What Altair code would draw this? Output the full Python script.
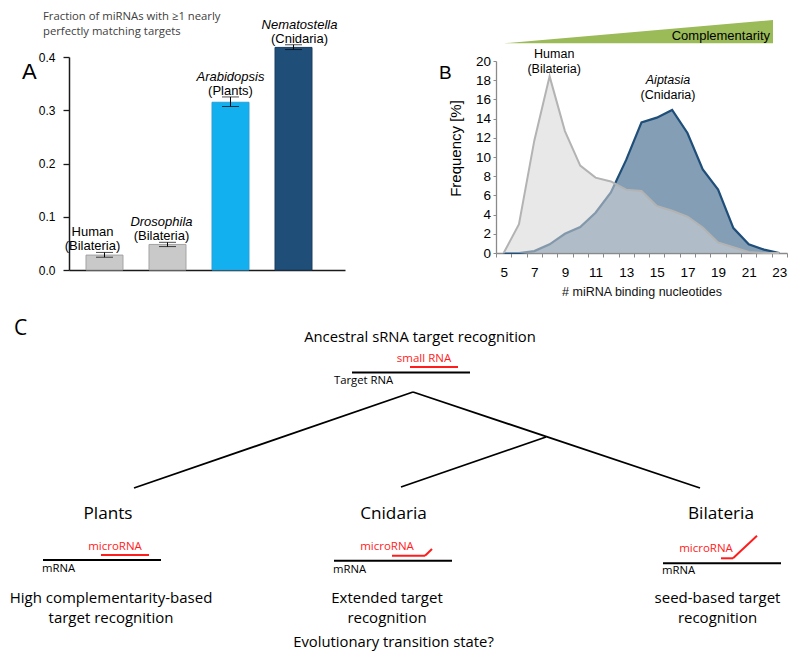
import altair as alt
import pandas as pd

# ---------------- Panel A data ----------------
a_species = ["Human", "Drosophila", "Arabidopsis", "Nematostella"]
a_clade = ["(Bilateria)", "(Bilateria)", "(Plants)", "(Cnidaria)"]
a_fraction = [0.028, 0.048, 0.315, 0.418]
a_err_low = [0.024, 0.044, 0.307, 0.414]
a_err_high = [0.033, 0.052, 0.325, 0.423]
a_yticks = [0.0, 0.1, 0.2, 0.3, 0.4]
a_title = ["Fraction of miRNAs with \u22651 nearly", "perfectly matching targets"]

# ---------------- Panel B data ----------------
b_nucleotides = [5, 6, 7, 8, 9, 10, 11, 12, 13, 14, 15, 16, 17, 18, 19, 20, 21, 22, 23]
b_human = [0.0, 3.0, 11.7, 18.4, 12.7, 9.1, 7.85, 7.45, 6.6, 6.45, 4.9, 4.4, 3.8, 2.65, 1.1, 0.6, 0.1, 0.0, 0.0]
b_aiptasia = [0.0, 0.0, 0.2, 0.9, 2.0, 2.7, 4.2, 6.3, 9.7, 13.6, 14.1, 14.9, 12.5, 8.7, 6.6, 2.6, 0.9, 0.35, 0.0]
b_xlabels = [5, 7, 9, 11, 13, 15, 17, 19, 21, 23]
b_xedges = [4.5, 5.5, 6.5, 7.5, 8.5, 9.5, 10.5, 11.5, 12.5, 13.5, 14.5, 15.5, 16.5,
            17.5, 18.5, 19.5, 20.5, 21.5, 22.5, 23.5]
b_yticks = [0, 2, 4, 6, 8, 10, 12, 14, 16, 18, 20]
b_series_labels = ["Human", "(Bilateria)", "Aiptasia", "(Cnidaria)"]
b_label_x = [8.3, 8.3, 15.73, 15.73]
b_label_y = [20.36, 18.8, 17.6, 16.04]

# ---------------- Panel C schematic (page pixel coordinates) ----------------
c_tree_x1 = [134, 413, 546]
c_tree_y1 = [488, 392, 437]
c_tree_x2 = [413, 700, 401]
c_tree_y2 = [392, 488, 487]

c_target_x1 = [352, 43, 334, 663]
c_target_x2 = [470, 161, 452, 781]
c_target_y = [372.5, 560, 560.7, 563.3]

c_small_x1 = [410, 101, 392, 425, 721, 733]
c_small_y1 = [367, 555, 555.7, 555.7, 558.3, 558.3]
c_small_x2 = [458, 149, 425, 432, 733, 757]
c_small_y2 = [367, 555, 555.7, 549, 558.3, 535.7]

c_headings = ["Ancestral sRNA target recognition", "Evolutionary transition state?"]
c_headings_x = [420, 393.5]
c_headings_y = [338, 643]

c_clades = ["Plants", "Cnidaria", "Bilateria"]
c_clades_x = [108, 393.5, 721]
c_clades_y = [514, 514, 514]

c_modes = ["High complementarity-based", "target recognition", "Extended target",
           "recognition", "seed-based target", "recognition"]
c_modes_x = [111, 111, 387, 387, 717.5, 717.5]
c_modes_y = [598, 618, 598, 618, 598, 618]

c_small_labels = ["small RNA", "microRNA", "microRNA", "microRNA"]
c_small_labels_x = [424, 115, 387, 706]
c_small_labels_y = [359, 547, 547, 549]

c_target_labels = ["Target RNA", "mRNA", "mRNA", "mRNA"]
c_target_labels_x = [334, 42, 333, 662]
c_target_labels_y = [381, 569, 570, 571]

wedge_x = [504, 773]
wedge_top = [43.3, 20]
wedge_base = [43.3, 43.3]

# ---------------- styling ----------------
SANS = "Liberation Sans"
HUM = "Open Sans"
A_FILLS = ["#c9c9c9", "#c9c9c9", "#12b0ef", "#1f4e79"]
A_STROKES = ["#a3a3a3", "#a3a3a3", "#2a9fd8", "#183c5e"]
RED = "#ff1c1c"

# ================= Panel A =================
dfA = pd.DataFrame({"species": a_species, "clade": a_clade, "frac": a_fraction,
                    "lo": a_err_low, "hi": a_err_high})


def xA(axis=None):
    return alt.X("species:N", sort=a_species,
                 scale=alt.Scale(domain=a_species, range=[61, 337], paddingInner=0.413,
                                 paddingOuter=0.397, align=0.34),
                 axis=axis)


def yA(field, axis=None):
    return alt.Y(field + ":Q", scale=alt.Scale(domain=[0, 0.4], range=[262, 49], nice=False),
                 axis=axis)


axisXA = alt.Axis(orient="bottom", labels=False, ticks=False, title=None, grid=False, offset=-387,
                  domainColor="#1a1a1a", domainWidth=1.5)
axisYA = alt.Axis(orient="left", values=a_yticks, format=".1f", offset=-61, tickSize=6,
                  labelPadding=8, labelFontSize=12, labelFont=SANS, labelColor="#000000",
                  domainColor="#1a1a1a", tickColor="#1a1a1a", domainWidth=1.5, tickWidth=1.3,
                  grid=False, title=None)

barsA = alt.Chart(dfA).mark_bar(strokeWidth=1).encode(
    x=xA(axisXA),
    y=yA("frac", axisYA),
    fill=alt.Fill("species:N", scale=alt.Scale(domain=a_species, range=A_FILLS), legend=None),
    stroke=alt.Stroke("species:N", scale=alt.Scale(domain=a_species, range=A_STROKES), legend=None),
)
errA = alt.Chart(dfA).mark_rule(color="black", strokeWidth=1).encode(
    x=xA(), y=yA("lo"), y2="hi:Q")
capsA = alt.Chart(dfA).transform_fold(["lo", "hi"], as_=["end", "v"]).mark_tick(
    color="black", size=17, thickness=1).encode(x=xA(), y=yA("v"))
nameA_plain = alt.Chart(dfA).transform_filter(alt.datum.species == "Human").mark_text(
    font=SANS, fontSize=13, dy=-16, baseline="alphabetic", color="black").encode(
    x=xA(), y=yA("hi"), text="species:N")
nameA_ital = alt.Chart(dfA).transform_filter(alt.datum.species != "Human").mark_text(
    font=SANS, fontSize=13, fontStyle="italic", dy=-16, baseline="alphabetic", color="black").encode(
    x=xA(), y=yA("hi"), text="species:N")
cladeA = alt.Chart(dfA).mark_text(
    font=SANS, fontSize=13, dy=-2, baseline="alphabetic", color="black").encode(
    x=xA(), y=yA("hi"), text="clade:N")

# ================= Panel B =================
nB = len(b_nucleotides)
dfB = pd.DataFrame({"n": b_nucleotides * 2, "freq": b_human + b_aiptasia,
                    "series": ["Human"] * nB + ["Aiptasia"] * nB})


def xB(field, axis=None):
    return alt.X(field + ":Q", scale=alt.Scale(domain=[4.5, 23.5], range=[488, 779], nice=False,
                                              zero=False), axis=axis)


def yB(field, axis=None):
    return alt.Y(field + ":Q", scale=alt.Scale(domain=[0, 20], range=[245, 53], nice=False),
                 axis=axis)


axisXB = alt.Axis(
    orient="bottom",
    values=sorted(b_xedges + b_xlabels),
    labelExpr="datum.value % 1 === 0 ? format(datum.value, 'd') : ''",
    tickOpacity={"condition": {"test": "datum.value % 1 === 0", "value": 0}, "value": 1},
    offset=-404, tickSize=4, tickColor="#8a8a8a", domainColor="#8a8a8a", domainWidth=1.3,
    labelFontSize=13.5, labelFont=SANS, labelColor="black", labelPadding=8,
    labelOverlap=False, labelFlush=False, grid=False,
    title="# miRNA binding nucleotides", titleFont=SANS, titleFontSize=12.5,
    titleFontWeight="normal", titleColor="#111111", titlePadding=7)
axisYB = alt.Axis(
    orient="left",
    values=b_yticks, format="d", offset=-488, tickSize=3, tickColor="#8a8a8a",
    domainColor="#8a8a8a", domainWidth=1.3, labelFontSize=13.5, labelFont=SANS,
    labelColor="black", labelPadding=2.5, grid=False,
    title="Frequency [%]", titleFont=SANS, titleFontSize=15, titleFontWeight="normal",
    titleColor="black", titlePadding=12, titleY=140)

aip = alt.Chart(dfB).transform_filter(alt.datum.series == "Aiptasia")
hum = alt.Chart(dfB).transform_filter(alt.datum.series == "Human")

aip_area = aip.mark_area(color="#1f4e79", opacity=0.55).encode(
    x=xB("n", axisXB), y=yB("freq", axisYB), y2=alt.datum(0))
aip_line = aip.mark_line(color="#1f4e79", strokeWidth=2.2).encode(x=xB("n"), y=yB("freq"))
hum_area = hum.mark_area(color="#d5d5d5", opacity=0.55).encode(
    x=xB("n"), y=yB("freq"), y2=alt.datum(0))
hum_line = hum.mark_line(color="#b3b3b3", strokeWidth=2).encode(x=xB("n"), y=yB("freq"))

dfBlab = pd.DataFrame({"t": b_series_labels, "n": b_label_x, "f": b_label_y})
labB_plain = alt.Chart(dfBlab).transform_filter(alt.datum.t != "Aiptasia").mark_text(
    font=SANS, fontSize=12.5, baseline="alphabetic", color="black").encode(
    x=xB("n"), y=yB("f"), text="t:N")
labB_ital = alt.Chart(dfBlab).transform_filter(alt.datum.t == "Aiptasia").mark_text(
    font=SANS, fontSize=12.5, fontStyle="italic", baseline="alphabetic", color="black").encode(
    x=xB("n"), y=yB("f"), text="t:N")

# ================= Panel C + annotations (page pixels) =================


def px(f):
    return alt.X(f + ":Q", scale=alt.Scale(domain=[0, 800], range=[-8, 792]), axis=None)


def py(f):
    return alt.Y(f + ":Q", scale=alt.Scale(domain=[0, 665], range=[-8, 657]), axis=None)


def texts(labels, xs, ys, **style):
    d = pd.DataFrame({"t": labels, "x": xs, "y": ys})
    return alt.Chart(d).mark_text(**style).encode(x=px("x"), y=py("y"), text="t:N")


tree = alt.Chart(pd.DataFrame({"x1": c_tree_x1, "y1": c_tree_y1, "x2": c_tree_x2, "y2": c_tree_y2})
                 ).mark_rule(color="black", strokeWidth=1.8).encode(
    x=px("x1"), y=py("y1"), x2="x2:Q", y2="y2:Q")
targets = alt.Chart(pd.DataFrame({"x1": c_target_x1, "x2": c_target_x2, "y": c_target_y})
                    ).mark_rule(color="black", strokeWidth=2).encode(
    x=px("x1"), x2="x2:Q", y=py("y"))
smalls = alt.Chart(pd.DataFrame({"x1": c_small_x1, "y1": c_small_y1, "x2": c_small_x2, "y2": c_small_y2})
                   ).mark_rule(color=RED, strokeWidth=2).encode(
    x=px("x1"), y=py("y1"), x2="x2:Q", y2="y2:Q")
wedge = alt.Chart(pd.DataFrame({"x": wedge_x, "top": wedge_top, "base": wedge_base})
                  ).mark_area(color="#9bbb59").encode(x=px("x"), y=py("top"), y2="base:Q")

t_heads = texts(c_headings, c_headings_x, c_headings_y, font=HUM, fontSize=14.8,
                baseline="middle", align="center", color="black")
t_clades = texts(c_clades, c_clades_x, c_clades_y, font=HUM, fontSize=17.2,
                 baseline="middle", align="center", color="black")
t_modes = texts(c_modes, c_modes_x, c_modes_y, font=HUM, fontSize=15,
                baseline="middle", align="center", color="black")
t_small = texts(c_small_labels, c_small_labels_x, c_small_labels_y, font=HUM, fontSize=11.5,
                baseline="middle", align="center", color=RED)
t_target = texts(c_target_labels, c_target_labels_x, c_target_labels_y, font=HUM, fontSize=11.3,
                 baseline="middle", align="left", color="black")
t_titleA = texts(a_title, [43, 43], [20, 35], font=HUM, fontSize=11.3,
                 baseline="alphabetic", align="left", color="#404040")
t_letterA = texts(["A"], [22], [79], font=SANS, fontSize=22, baseline="alphabetic",
                  align="left", color="black")
t_letterB = texts(["B"], [439], [79], font=SANS, fontSize=19, baseline="alphabetic",
                  align="left", color="black")
t_letterC = texts(["C"], [14], [335], font=HUM, fontSize=21, baseline="alphabetic",
                  align="left", color="black")
t_compl = texts(["Complementarity"], [770], [39.5], font=SANS, fontSize=13,
                baseline="alphabetic", align="right", color="black")

layers = [barsA, errA, capsA, nameA_plain, nameA_ital, cladeA,
          aip_area, aip_line, hum_area, hum_line, labB_plain, labB_ital,
          wedge, tree, targets, smalls, t_heads, t_clades, t_modes, t_small,
          t_target, t_titleA, t_letterA, t_letterB, t_letterC, t_compl]

chart = alt.layer(*layers).resolve_scale(
    x="independent", y="independent", fill="independent", stroke="independent"
).resolve_axis(x="independent", y="independent").properties(
    width=784, height=649, autosize=alt.AutoSizeParams(type="none"), padding=0
).configure_view(stroke=None)

chart.save("out.html", embed_options={"renderer": "svg", "actions": False})
